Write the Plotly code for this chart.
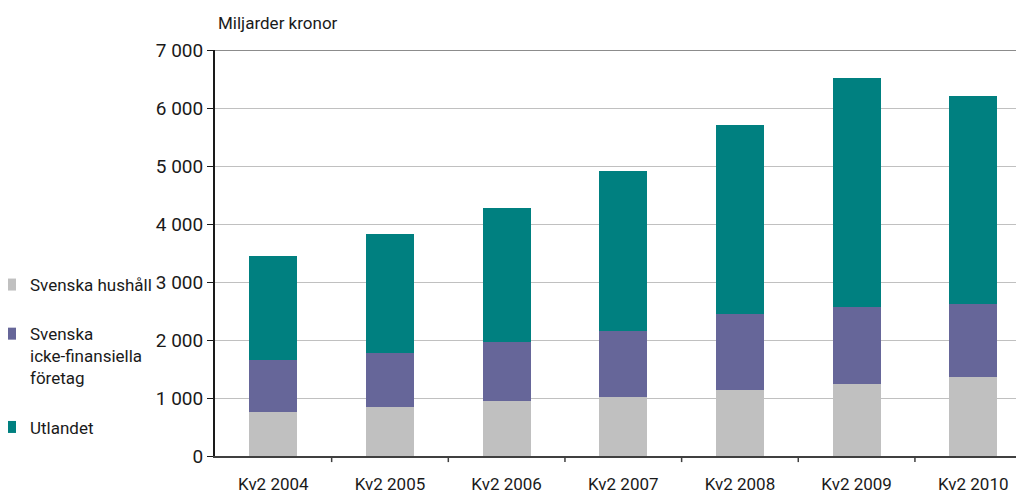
import plotly.graph_objects as go

categories = ["Kv2 2004", "Kv2 2005", "Kv2 2006", "Kv2 2007", "Kv2 2008", "Kv2 2009", "Kv2 2010"]
hushall = [755, 840, 940, 1020, 1140, 1240, 1360]
foretag = [895, 930, 1030, 1140, 1300, 1330, 1260]
utlandet = [1790, 2050, 2300, 2750, 3260, 3940, 3580]
ytick_vals = [0, 1000, 2000, 3000, 4000, 5000, 6000, 7000]

FONT = "Roboto, Lato, sans-serif"
TXT = "#1a1a1a"

# the page body has an 8px default margin, so the figure is 8px smaller
W, H = 1016, 488
L, T, B = 207, 42, 40

fig = go.Figure()
series = [
    ("Svenska hushåll", hushall, "#c0c0c0"),
    ("Svenska<br>icke-finansiella<br>företag", foretag, "#666699"),
    ("Utlandet", utlandet, "#008080"),
]
for i, (name, vals, col) in enumerate(series):
    fig.add_trace(go.Bar(
        x=list(range(len(categories))), y=vals, name=name,
        marker=dict(color=col, line=dict(width=0)),
        width=0.41, legendgroup=f"g{i}",
    ))

plot_w = W - L
plot_h = H - T - B

fig.update_layout(
    barmode="stack",
    width=W, height=H,
    margin=dict(l=L, r=0, t=T, b=B, autoexpand=False),
    paper_bgcolor="white", plot_bgcolor="white",
    separators=", ",
    font=dict(family=FONT, size=17, color=TXT),
    showlegend=True,
    legend=dict(
        x=(-18 - L) / plot_w, xanchor="left", y=0.4655, yanchor="top",
        traceorder="grouped", tracegroupgap=24, valign="top",
        font=dict(family=FONT, size=17, color=TXT),
        bgcolor="rgba(0,0,0,0)",
    ),
    title=dict(text="Miljarder kronor", x=210 / W, xanchor="left", xref="container",
               y=1 - 15 / H, yanchor="middle", yref="container",
               font=dict(family=FONT, size=17, color=TXT)),
    xaxis=dict(
        range=[-0.5, 6.435],
        tickmode="array", tickvals=list(range(len(categories))), ticktext=categories,
        ticks="", showgrid=False, zeroline=False, ticklabelstandoff=12,
        showline=True, linecolor="#404040", linewidth=2,
        tickfont=dict(family=FONT, size=17, color=TXT),
        fixedrange=True,
    ),
    yaxis=dict(
        range=[0, 7000], tickvals=ytick_vals, tickformat=",d",
        ticks="outside", ticklen=6, tickcolor=TXT, tickwidth=1,
        showline=True, linecolor=TXT, linewidth=2,
        showgrid=True, gridcolor="#c0c0c0", gridwidth=1,
        zeroline=False,
        tickfont=dict(family=FONT, size=19, color=TXT),
        fixedrange=True,
    ),
)

# category boundary tick marks on the x axis
for b in range(1, len(categories)):
    fig.add_shape(type="line", xref="x", yref="paper", x0=b - 0.5, x1=b - 0.5, y0=0, y1=-0.015,
                  line=dict(color="#404040", width=1.5))
# darker top frame line at 7 000
fig.add_shape(type="line", xref="paper", yref="y", x0=0, x1=1, y0=7000, y1=7000,
              line=dict(color="#8c8c8c", width=2))

fig.write_html("out.html")
